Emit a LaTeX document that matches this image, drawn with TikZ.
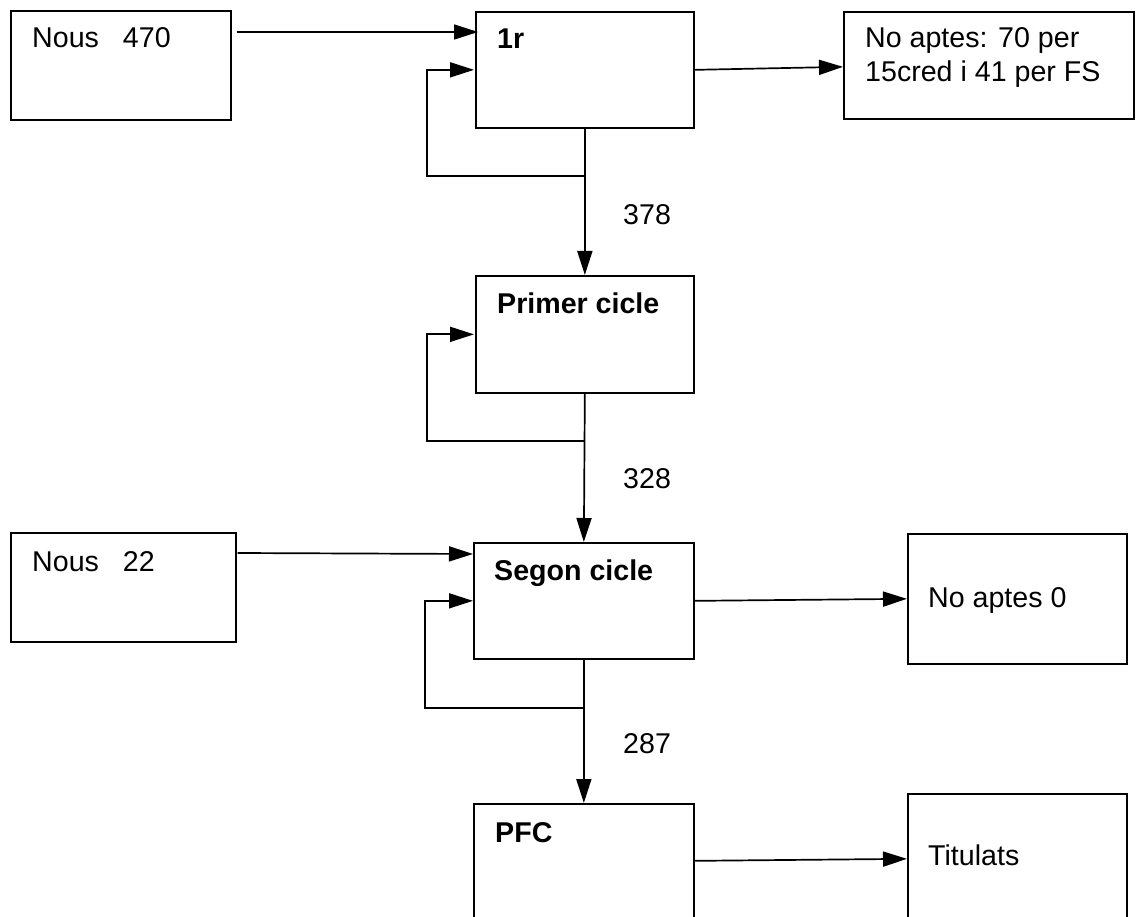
\documentclass[tikz,border=0pt]{standalone}
\usepackage{fontspec}
\setmainfont{Liberation Sans}
\usetikzlibrary{arrows.meta}
\begin{document}
\begin{tikzpicture}[x=1pt,y=-1pt,
  box/.style={draw,line width=1.7pt,rectangle,inner sep=0pt},
  txt/.style={inner sep=0pt,anchor=base west,font=\fontsize{28.6}{34}\selectfont},
  btxt/.style={txt,font=\fontsize{28.6}{34}\selectfont\bfseries},
  ln/.style={line width=1.7pt},
  arr/.style={ln,-{Triangle[length=24pt,width=15pt]}}]
\useasboundingbox (0,0) rectangle (1136,917);
\clip (0,0) rectangle (1136,917);
% boxes
\node[box,minimum width=220pt,minimum height=109pt,anchor=north west] (n470) at (10,10) {};
\node[box,minimum width=218pt,minimum height=116pt,anchor=north west] (r1) at (475,11) {};
\node[box,minimum width=290pt,minimum height=107pt,anchor=north west] (noap) at (843,11) {};
\node[box,minimum width=218pt,minimum height=117pt,anchor=north west] (primer) at (475,275) {};
\node[box,minimum width=225pt,minimum height=109pt,anchor=north west] (n22) at (10,532) {};
\node[box,minimum width=220pt,minimum height=116pt,anchor=north west] (segon) at (473,542) {};
\node[box,minimum width=219pt,minimum height=130pt,anchor=north west] (noap0) at (907,533) {};
\node[box,minimum width=220pt,minimum height=140pt,anchor=north west] (pfc) at (473,803) {};
\node[box,minimum width=219pt,minimum height=150pt,anchor=north west] (tit) at (907,793) {};
% texts
\node[txt] (t470) at (32,48) {Nous\hspace{24pt}470};
\node[btxt] (t1r) at (497,49) {1r};
\node[txt] (tna1) at (865,48) {No aptes: 70 per};
\node[txt] (tna2) at (865,82) {15cred i 41 per FS};
\node[btxt] (tpr) at (497,314) {Primer cicle};
\node[txt] (t22) at (32,571) {Nous\hspace{24pt}22};
\node[btxt] (tsg) at (494,580) {Segon cicle};
\node[txt] (tna0) at (928,607) {No aptes 0};
\node[btxt] (tpfc) at (495,842) {PFC};
\node[txt] (ttit) at (928,865) {Titulats};
\node[txt] (l378) at (623,225) {378};
\node[txt] (l328) at (623,488) {328};
\node[txt] (l287) at (623,753) {287};
% connectors
\draw[arr] ([shift={(5,22)}]n470.north east) -- ([shift={(3,21)}]r1.north west);
\draw[arr] (r1.east) -- ([shift={(0,1.5)}]noap.west);
\draw[arr] (r1.south) -- (primer.north);
\coordinate (c1) at ([shift={(0,47)}]r1.south);
\draw[arr] (c1) -| ([shift={(-48,0)}]r1.west) -- ([shift={(-1,0)}]r1.west);
\coordinate (c2) at ([shift={(0,47)}]primer.south);
\draw[arr] (primer.south) -- (segon.north);
\draw[arr] (c2) -| ([shift={(-48,0)}]primer.west) -- ([shift={(-1,0)}]primer.west);
\draw[arr] ([shift={(1,21)}]n22.north east) -- ([shift={(0,12)}]segon.north west);
\draw[arr] (segon.east) -- ([shift={(0,-2)}]segon.east -| noap0.west);
\draw[arr] (segon.south) -- (pfc.north);
\coordinate (c3) at ([shift={(0,48)}]segon.south);
\draw[arr] (c3) -| ([shift={(-48,0)}]segon.west) -- (segon.west);
\draw[arr] ([shift={(0,-13)}]pfc.east) -- ([shift={(0,-15)}]pfc.east -| tit.west);
\end{tikzpicture}
\end{document}
